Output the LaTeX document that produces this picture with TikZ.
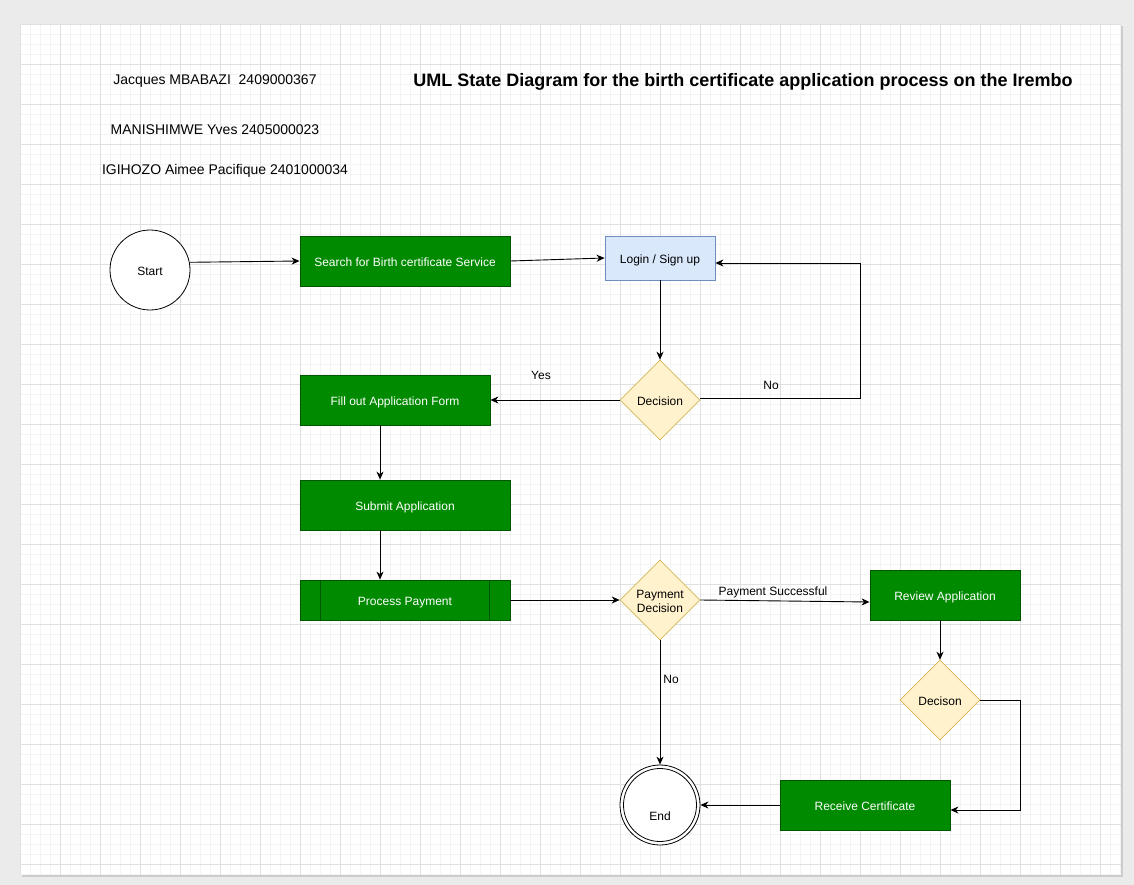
\documentclass[tikz,border=0pt]{standalone}
\usepackage{fontspec}
\setmainfont{Liberation Sans}
\usetikzlibrary{arrows.meta,shapes.geometric}
\definecolor{gfill}{HTML}{008A00}
\definecolor{gstroke}{HTML}{005700}
\definecolor{bfill}{HTML}{DAE8FC}
\definecolor{bstroke}{HTML}{6C8EBF}
\definecolor{yfill}{HTML}{FFF2CC}
\definecolor{ystroke}{HTML}{D6B656}
\definecolor{pagebg}{HTML}{EBEBEB}
\definecolor{minorg}{HTML}{F3F3F3}
\definecolor{majorg}{HTML}{E0E0E0}
\tikzset{
  fs12/.style={font=\fontsize{12}{14}\selectfont},
  onel/.style={text height=10pt, text depth=0pt},
  greenbox/.style={rectangle, draw=gstroke, fill=gfill, text=white, fs12, onel, inner sep=0pt, line width=0.8pt},
  bluebox/.style={rectangle, draw=bstroke, fill=bfill, text=black, fs12, onel, inner sep=0pt, line width=0.8pt},
  decbox/.style={diamond, draw=ystroke, fill=yfill, fs12, inner sep=0pt, minimum width=80pt, minimum height=80pt, align=center, line width=0.6pt},
  statecirc/.style={circle, draw=black, fill=white, fs12, onel, minimum size=80pt, inner sep=0pt, line width=0.8pt},
  arr/.style={-{Stealth[length=8pt,width=7pt,inset=2.5pt]}, line width=0.9pt, black},
  lbl/.style={fs12, onel, inner sep=0pt},
  names/.style={font=\fontsize{14}{16}\selectfont, text height=10pt, text depth=0pt, inner sep=0pt},
}
\begin{document}
\begin{tikzpicture}[x=1pt,y=-1pt]
\useasboundingbox (0,0) rectangle (1134,885);
\fill[pagebg] (0,0) rectangle (1134,885);
\fill[black!20] (22,26) rectangle (1123,877);
\fill[white] (20,24) rectangle (1121,875);
\foreach \i in {0,...,110} \draw[minorg, line width=0.8pt] ({20+10*\i},24) -- ({20+10*\i},875);
\foreach \j in {0,...,85} \draw[minorg, line width=0.8pt] (20,{24+10*\j}) -- (1121,{24+10*\j});
\foreach \i in {0,...,27} \draw[majorg, line width=0.9pt] ({20+40*\i},24) -- ({20+40*\i},875);
\foreach \j in {0,...,21} \draw[majorg, line width=0.9pt] (20,{24+40*\j}) -- (1121,{24+40*\j});

% header texts
\node[names] (n1) at (215,80) {Jacques MBABAZI~ 2409000367};
\node[names] (n2) at (215,130) {MANISHIMWE Yves 2405000023};
\node[names] (n3) at (225,170) {IGIHOZO Aimee Pacifique 2401000034};
\node[font=\bfseries\fontsize{18}{21}\selectfont, text height=13.4pt, text depth=0pt, inner sep=0pt] (title) at (743,80) {UML State Diagram for the birth certificate application process on the Irembo};

% nodes
\node[statecirc] (start) at (150,270) {Start};
\node[greenbox, minimum width=210pt, minimum height=50pt] (search) at (405,261) {Search for Birth certificate Service};
\node[bluebox, minimum width=110pt, minimum height=44pt] (login) at (660,258) {Login / Sign up};
\node[decbox, onel] (dec1) at (660,400) {Decision};
\node[greenbox, minimum width=190pt, minimum height=50pt] (fill) at (395,400) {Fill out Application Form};
\node[greenbox, minimum width=210pt, minimum height=50pt] (submit) at (405,505) {Submit Application};
\node[greenbox, minimum width=210pt, minimum height=40pt] (process) at (405,600) {Process Payment};
\draw[gstroke, line width=0.8pt] ([xshift=21pt]process.north west) -- ([xshift=21pt]process.south west);
\draw[gstroke, line width=0.8pt] ([xshift=-21pt]process.north east) -- ([xshift=-21pt]process.south east);
\node[decbox] (dec2) at (660,600) {};
\node[fs12, align=center, inner sep=0pt] (dec2txt) at (660,601) {Payment\\Decision};
\node[greenbox, minimum width=150pt, minimum height=50pt] (review) at (945,595) {Review Application};
\node[decbox, onel] (dec3) at (940,700) {Decison};
\node[greenbox, minimum width=170pt, minimum height=50pt] (receive) at (865,805) {Receive Certificate};
\node[statecirc] (endst) at (660,805) {};
\draw[black, line width=0.8pt] (endst.center) circle[radius=36.5pt];
\node[lbl] (endlbl) at (660,815) {End};

% connectors
\draw[arr] (start.11.5) -- (search.west);
\draw[arr] (search.east) -- (login.west);
\draw[arr] (login.south) -- (dec1.north);
\draw[arr] (dec1.west) -- (fill.east);
\node[lbl] (yes) at (541,374) {Yes};
\draw[arr] ([yshift=2pt]dec1.east) -- ++(160,0) |- ([yshift=-5pt]login.east);
\node[lbl] (no1) at (771,384) {No};
\draw[arr] ([xshift=-15pt]fill.south) -- ([xshift=-25pt]submit.north);
\draw[arr] ([xshift=-25pt]submit.south) -- ([xshift=-25pt]process.north);
\draw[arr] (process.east) -- (dec2.west);
\draw[arr] (dec2.east) -- ([yshift=-7pt]review.west);
\node[lbl] (paysucc) at (773,590) {Payment Successful};
\draw[arr] (dec2.south) -- (endst.north);
\node[lbl] (no2) at (671,678) {No};
\draw[arr] (review.south -| dec3.north) -- (dec3.north);
\draw[arr] (dec3.east) -- ++(40,0) |- ([yshift=-5pt]receive.east);
\draw[arr] (receive.west) -- (endst.east);
\end{tikzpicture}
\end{document}
